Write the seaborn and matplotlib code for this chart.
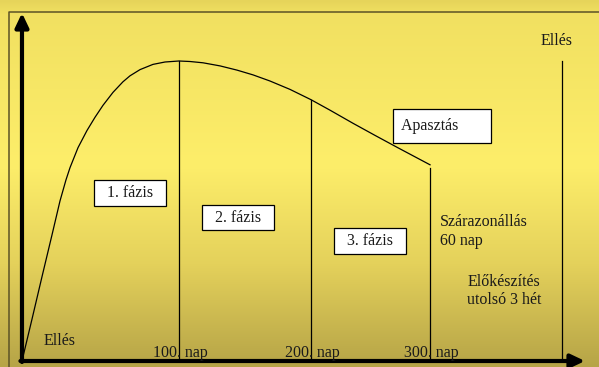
import numpy as np
import pandas as pd
import matplotlib
matplotlib.use("Agg")
import matplotlib.pyplot as plt
from matplotlib.colors import LinearSegmentedColormap
import seaborn as sns

# ---- data (days in lactation, milk yield in arbitrary units) ----
days = [0, 6.4, 12.7, 19.1, 24.2, 28.0, 30.6, 35.7, 41.4, 46.5, 51.6, 58.0,
        64.3, 68.8, 75.2, 83.4, 91.1, 100, 108.3, 118.2, 131.1, 143.9, 156.1,
        168.9, 184.1, 200, 216.0, 235.3, 253.8, 272.3, 300]
milk = [0, 4.2, 8.4, 12.6, 16.0, 18.1, 19.34, 21.34, 23.05, 24.37, 25.57, 26.87,
        27.92, 28.52, 29.14, 29.66, 29.9, 30.0, 29.95, 29.82, 29.51, 29.09, 28.61,
        28.0, 27.16, 26.13, 25.08, 23.77, 22.56, 21.37, 19.62]

phase_days = [100, 200, 300]
phase_tops = [30.0, 26.13, 19.3]
phase_names = ["1. fázis", "2. fázis", "3. fázis"]
phase_label_x = [68.8, 144.7, 249.6]
phase_label_y = [16.8, 14.35, 12.0]

calving_day = 365
calving_top = 30.0

# the sketch is not drawn to scale: day -> horizontal position
DAY_NODES = [-50, 0, 100, 200, 300, 365, 450]
POS_NODES = [-78.5, 0, 157, 289, 408, 540, 712.6]


def fwd(d):
    return np.interp(d, DAY_NODES, POS_NODES)


def inv(p):
    return np.interp(p, POS_NODES, DAY_NODES)


df = pd.DataFrame({"nap": days, "tej": milk})

fig = plt.figure(figsize=(5.99, 3.67), dpi=100)
ax = fig.add_axes([0, 0, 1, 1])
plt.rcParams["font.family"] = ["Liberation Serif", "DejaVu Serif"]
FS = 11.5
TXT = "#1a1a1a"

# background gradient
bg = LinearSegmentedColormap.from_list(
    "bg", [(0, "#e6d45a"), (0.035, "#f1e061"), (0.45, "#fdee6a"),
           (0.72, "#e4d15b"), (1.0, "#b6a447")])
grad = np.linspace(0, 1, 256).reshape(-1, 1)
ax.imshow(grad, cmap=bg, aspect="auto", extent=[0, 1, 0, 1],
          transform=ax.transAxes, zorder=0)

# frame line
ax.plot([9 / 599, 9 / 599, 1], [0, 1 - 12 / 367, 1 - 12 / 367],
        transform=ax.transAxes, color="#5c5326", lw=1.1, zorder=1)

ax.set_xscale("function", functions=(fwd, inv))
ax.set_xlim(-14.0, 383.2)
ax.set_ylim(-0.6, 36.1)

# lactation curve
sns.lineplot(data=df, x="nap", y="tej", ax=ax, color="black", lw=0.9,
             zorder=3, legend=False)

# phase boundaries
for d, top in zip(phase_days, phase_tops):
    ax.plot([d, d], [0, top], color="black", lw=0.9, zorder=3)
ax.plot([calving_day, calving_day], [0, calving_top], color="black", lw=0.9, zorder=3)

# axes with arrows
arrow = dict(arrowstyle="-|>,head_length=0.42,head_width=0.2", lw=3,
             color="black", mutation_scale=20, shrinkA=0, shrinkB=0)
ax.annotate("", xy=(0, 34.8), xytext=(0, -0.1), arrowprops=arrow, zorder=4)
ax.annotate("", xy=(376.3, 0), xytext=(-1.0, 0), arrowprops=arrow, zorder=4)

# day labels under the boundaries
for d in phase_days:
    ax.annotate(f"{d}. nap", xy=(d, 0), xytext=(-18.4, 5.8),
                textcoords="offset points", ha="left", va="center",
                fontsize=FS, color=TXT, zorder=5)

# phase boxes
box = dict(boxstyle="square,pad=0.3", fc="white", ec="black", lw=0.9)
for name, x, y in zip(phase_names, phase_label_x, phase_label_y):
    ax.text(x, y, "  " + name + "  ", ha="center", va="center", fontsize=FS,
            color=TXT, bbox=box, zorder=5)

ax.text(305.9, 23.5, "Apasztás      ", ha="center", va="center", fontsize=FS,
        color=TXT, bbox=dict(boxstyle="square,pad=0.55", fc="white",
                             ec="black", lw=0.9), zorder=5)

ax.text(14.0, 2.0, "Ellés", ha="left", va="center", fontsize=FS, color=TXT)
ax.text(362.3, 32.0, "Ellés", ha="center", va="center", fontsize=FS, color=TXT)
ax.text(304.9, 13.0, "Szárazonállás\n60 nap", ha="left", va="center",
        fontsize=FS, color=TXT, linespacing=1.25)
ax.text(336.4, 7.0, "Előkészítés\nutolsó 3 hét", ha="center", va="center",
        fontsize=FS, color=TXT, linespacing=1.25, multialignment="center")

ax.axis("off")
fig.savefig("out.png", dpi=100)
